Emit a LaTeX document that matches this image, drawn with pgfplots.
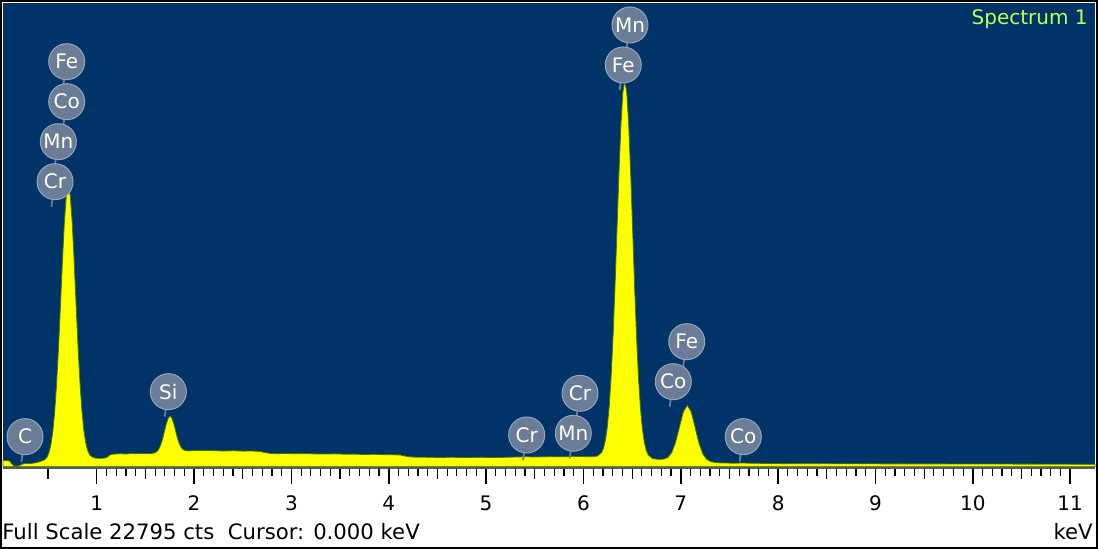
\documentclass[border=0pt]{standalone}
\usepackage{fontspec}
\setmainfont{DejaVu Sans}
\usepackage{pgfplots}
\pgfplotsset{compat=1.18}
\definecolor{bgblue}{RGB}{0,52,104}
\definecolor{specyellow}{RGB}{255,255,0}
\definecolor{specedge}{RGB}{70,120,0}
\definecolor{lblfill}{RGB}{106,124,150}
\definecolor{lbledge}{RGB}{150,165,185}
\definecolor{spectxt}{RGB}{190,255,80}
\tikzset{el/.style={circle, fill=lblfill, draw=lbledge, line width=0.5pt, text=white, inner sep=0pt, minimum size=18pt, font=\fontsize{10}{10}\selectfont}}
\newcommand{\lbl}[3]{\draw[lblfill, line width=0.9pt] (axis cs:#1,#2) -- ++(0,-12.5pt); \node[el] at (axis cs:#1,#2) {#3};}
\begin{document}
\begin{tikzpicture}[x=1pt,y=1pt]
\useasboundingbox (0,0) rectangle (549,274.5);
\fill[white] (0,0) rectangle (549,274.5);
\begin{axis}[at={(1.5pt,41.15pt)}, anchor=south west, scale only axis,
  width=546pt, height=231.85pt,
  xmin=0.0375, xmax=11.255, ymin=0, ymax=22795, clip=false,
  axis background/.style={fill=bgblue},
  axis line style={draw=none},
  xtick={1,...,11}, ytick=\empty, minor x tick num=9,
  xtick pos=bottom, tick align=outside,
  major tick length=8.5pt, minor tick length=4.5pt,
  tick style={black, line width=0.8pt}, minor tick style={line width=0.6pt},
  extra x ticks={0.5,1.5,...,10.5}, extra x tick labels={},
  extra x tick style={major tick length=6pt, tick style={line width=0.6pt}},
  xticklabel style={font=\fontsize{10}{10}\selectfont, anchor=center, yshift=-9.8pt},
  /pgf/number format/assume math mode=true]
\addplot[fill=specyellow, draw=specedge, line width=0.4pt] coordinates {
(0.0375,300) (0.06,310) (0.09,290) (0.11,260) (0.13,120) (0.15,40) (0.18,30)
(0.21,70) (0.24,130) (0.27,160) (0.30,150) (0.34,170) (0.38,200) (0.41,240)
(0.428,271) (0.468,350) (0.488,456) (0.508,666) (0.528,1044) (0.548,1677)
(0.568,2660) (0.588,4048) (0.608,5845) (0.628,7936) (0.648,10094) (0.668,12000)
(0.688,13321) (0.708,13796) (0.728,13333) (0.748,12026) (0.768,10133) (0.788,7988)
(0.808,5911) (0.828,4126) (0.848,2750) (0.868,1778) (0.888,1154) (0.908,787)
(0.928,586) (0.948,487) (0.988,421)
(1.03,410) (1.08,420) (1.11,470) (1.13,560) (1.16,610) (1.20,625) (1.25,640)
(1.30,620) (1.35,650) (1.40,640) (1.45,655) (1.50,645)
(1.553,642) (1.593,676) (1.613,725) (1.633,826) (1.653,1013) (1.673,1296)
(1.693,1670) (1.713,2064) (1.733,2370) (1.753,2490) (1.773,2382) (1.793,2089)
(1.813,1709) (1.833,1351) (1.853,1081) (1.873,911) (1.893,822) (1.913,786) (1.953,777)
(2.00,795) (2.05,800) (2.10,785) (2.15,795) (2.20,790) (2.30,770) (2.40,785)
(2.50,765) (2.60,770) (2.68,750) (2.72,700) (2.78,655) (2.85,640) (2.95,650)
(3.05,635) (3.15,645) (3.25,625) (3.35,620) (3.45,632) (3.55,612) (3.65,618)
(3.75,600) (3.85,612) (3.95,592) (4.05,585) (4.12,575) (4.18,510) (4.25,472)
(4.35,466) (4.45,460) (4.55,455) (4.65,466) (4.75,450) (4.85,456) (4.95,460)
(5.05,452) (5.15,455) (5.25,468) (5.35,478) (5.41,495) (5.47,475) (5.55,482)
(5.65,490) (5.75,486) (5.85,498) (5.90,512) (5.95,502) (6.02,494) (6.06,492)
(6.105,496) (6.145,526) (6.185,686) (6.205,901) (6.225,1289) (6.245,1946)
(6.265,2973) (6.285,4470) (6.305,6475) (6.325,8938) (6.345,11690) (6.365,14434)
(6.385,16797) (6.405,18401) (6.425,18970) (6.445,18397) (6.465,16787) (6.485,14414)
(6.505,11660) (6.525,8898) (6.545,6425) (6.565,4410) (6.585,2903) (6.605,1866)
(6.625,1199) (6.645,803) (6.665,581) (6.705,411) (6.745,371)
(6.787,363) (6.827,375) (6.867,455) (6.907,694) (6.947,1201) (6.987,1961)
(7.027,2706) (7.067,3020) (7.107,2691) (7.147,1928) (7.187,1148) (7.227,619)
(7.267,358) (7.307,252) (7.347,211)
(7.40,188) (7.48,178) (7.56,172) (7.64,182) (7.70,170) (7.80,165) (7.90,158)
(8.00,152) (8.25,148) (8.50,145) (8.75,142) (9.00,140) (9.25,138) (9.50,135)
(9.75,132) (10.00,130) (10.25,128) (10.50,127) (10.75,124) (11.00,120) (11.255,115)
} \closedcycle;
\draw[color=black!65, line width=1.3pt] ([yshift=-0.75pt]rel axis cs:0,0) -- ([yshift=-0.75pt]rel axis cs:1,0);
% element labels (top to bottom in each stack)
\lbl{0.692}{19910}{Fe}
\lbl{0.692}{17943}{Co}
\lbl{0.606}{15977}{Mn}
\lbl{0.572}{14011}{Cr}
\lbl{0.2635}{1475}{C}
\lbl{1.736}{3687}{Si}
\lbl{5.965}{3608}{Cr}
\lbl{5.417}{1558}{Cr}
\lbl{5.896}{1642}{Mn}
\lbl{6.478}{21714}{Mn}
\lbl{6.409}{19748}{Fe}
\lbl{7.061}{6145}{Fe}
\lbl{6.923}{4179}{Co}
\lbl{7.642}{1475}{Co}
\end{axis}
\node[anchor=east, text=spectxt, inner sep=0pt, font=\fontsize{10}{10}\selectfont] at (544,265) {Spectrum 1};
\node[anchor=west, inner sep=0pt, font=\fontsize{10.6}{10.6}\selectfont] at (1,8.65) {Full Scale 22795 cts\ \ Cursor: 0.000 keV};
\node[anchor=east, inner sep=0pt, font=\fontsize{10.6}{10.6}\selectfont] at (546.5,8.65) {keV};
\draw[black, line width=1pt] (0.5,0.5) rectangle (548.5,274);
\end{tikzpicture}
\end{document}
